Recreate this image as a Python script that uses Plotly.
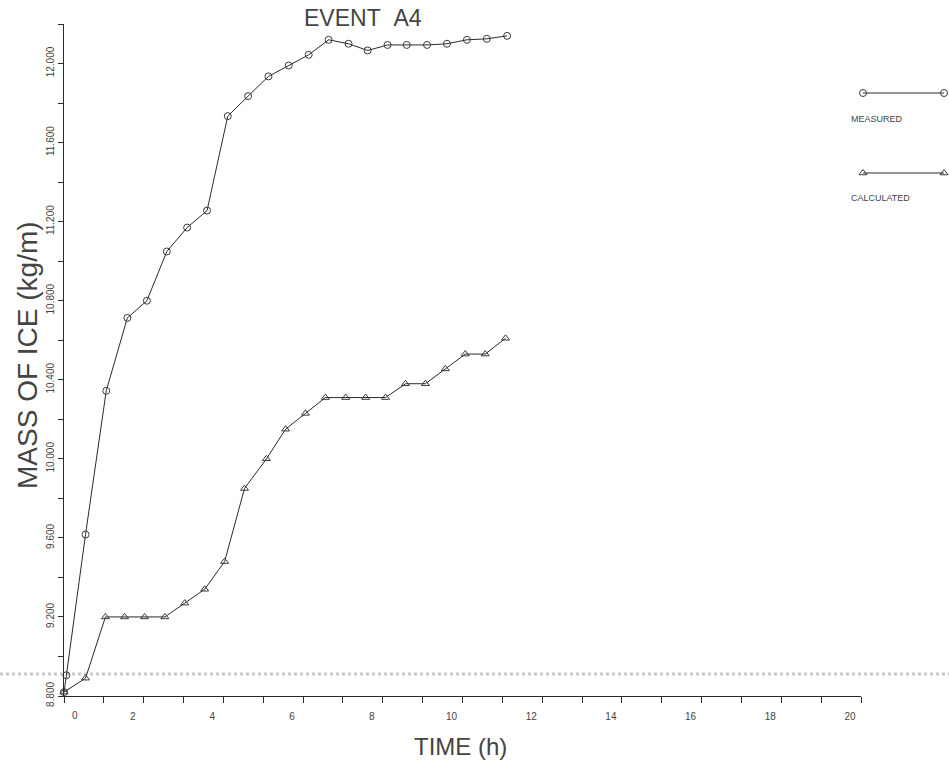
import plotly.graph_objects as go

# ---------------- data ----------------
meas_time = [0.0, 0.06, 0.54, 1.06, 1.59, 2.08, 2.58, 3.09, 3.59, 4.11, 4.62, 5.13,
             5.64, 6.14, 6.64, 7.14, 7.62, 8.12, 8.60, 9.11, 9.61, 10.11, 10.61, 11.12]
meas_mass = [8.82, 8.905, 9.617, 10.344, 10.713, 10.80, 11.049, 11.17, 11.256, 11.734,
             11.835, 11.935, 11.99, 12.044, 12.12, 12.10, 12.066, 12.094, 12.094, 12.094,
             12.10, 12.12, 12.125, 12.14]

calc_time = [0.0, 0.54, 1.04, 1.52, 2.02, 2.53, 3.03, 3.53, 4.03, 4.53, 5.08, 5.56,
             6.06, 6.56, 7.07, 7.57, 8.07, 8.57, 9.07, 9.57, 10.07, 10.57, 11.08]
calc_mass = [8.82, 8.89, 9.20, 9.20, 9.20, 9.20, 9.27, 9.34, 9.48, 9.85, 10.00, 10.15,
             10.23, 10.31, 10.31, 10.31, 10.31, 10.38, 10.38, 10.455, 10.53, 10.53, 10.61]

x_tick_vals = [0, 1, 2, 3, 4, 5, 6, 7, 8, 9, 10, 11, 12, 13, 14, 15, 16, 17, 18, 19, 20]
x_tick_text = ["", "", "2", "", "4", "", "6", "", "8", "", "10", "", "12", "", "14", "",
               "16", "", "18", "", "20"]
y_tick_vals = [8.8, 9.0, 9.2, 9.4, 9.6, 9.8, 10.0, 10.2, 10.4, 10.6, 10.8, 11.0, 11.2,
               11.4, 11.6, 11.8, 12.0, 12.2]
y_tick_text = ["8.800", "", "9.200", "", "9.600", "", "10.000", "", "10.400", "",
               "10.800", "", "11.200", "", "11.600", "", "12.000", ""]

series_names = ["MEASURED", "CALCULATED"]
scan_line_mass = 8.911   # faint grey scanner streak across the page

# ---------------- layout geometry ----------------
W, H = 949, 776
ML, MR, MT, MB = 64, 0, 24, 80
PW, PH = W - ML - MR, H - MT - MB


def fx(px):
    return (px - ML) / PW


def fy(py):
    return (H - MB - py) / PH


INK = "#2a2a2a"
TXT = "#444444"
FONT = "Liberation Sans, Arial, sans-serif"

fig = go.Figure()

fig.add_trace(go.Scatter(
    x=meas_time, y=meas_mass, mode="lines+markers", name=series_names[0],
    line=dict(color=INK, width=1),
    marker=dict(symbol="circle-open", size=7, color="#3a3a3a", line=dict(width=1)),
    cliponaxis=False, showlegend=False))

fig.add_trace(go.Scatter(
    x=calc_time, y=calc_mass, mode="lines+markers", name=series_names[1],
    line=dict(color=INK, width=1),
    marker=dict(symbol="triangle-up-open", size=7, color="#3a3a3a", line=dict(width=1)),
    cliponaxis=False, showlegend=False))

# hand-drawn style legend on an overlay axis
leg_y = [fy(93), fy(173)]
leg_sym = ["circle-open", "triangle-up-open"]
for i in range(2):
    fig.add_trace(go.Scatter(
        x=[0, 1], y=[leg_y[i], leg_y[i]], mode="lines+markers",
        xaxis="x2", yaxis="y2",
        line=dict(color=INK, width=1),
        marker=dict(symbol=leg_sym[i], size=7, color="#3a3a3a", line=dict(width=1)),
        cliponaxis=False, showlegend=False, hoverinfo="skip"))


def ann(text, x, y, size, xref="paper", xanchor="center", **kw):
    d = dict(text=text, x=x, y=y, xref=xref, yref="paper", showarrow=False,
             xanchor=xanchor, yanchor="middle",
             font=dict(family=FONT, size=size, color=TXT))
    d.update(kw)
    return d


annotations = [
    ann("EVENT\u00a0\u00a0A4", fx(363), fy(18), 23),
    ann("MASS OF ICE (kg/m)", fx(27), fy(355), 28, textangle=-90),
    ann("TIME (h)", fx(460), fy(746), 24),
    ann("0", 0, fy(716), 10, xref="x", xshift=11),
    ann(series_names[0], fx(849), fy(119), 9, xanchor="left"),
    ann(series_names[1], fx(849), fy(198), 9, xanchor="left"),
]

fig.update_layout(
    width=W, height=H,
    margin=dict(l=ML, r=MR, t=MT, b=MB, pad=0),
    paper_bgcolor="white", plot_bgcolor="white",
    font=dict(family=FONT, color=TXT),
    xaxis=dict(domain=[0, fx(861)], range=[0, 20], tickmode="array",
               tickvals=x_tick_vals, ticktext=x_tick_text,
               showline=True, linecolor=INK, linewidth=1, mirror=False,
               ticks="outside", ticklen=6, tickcolor=INK, tickwidth=1,
               showgrid=False, zeroline=False,
               tickfont=dict(family=FONT, size=10, color=TXT),
               ticklabelshift=-11, ticklabelstandoff=5),
    yaxis=dict(domain=[0, 1], range=[8.8, 12.2], tickmode="array",
               tickvals=y_tick_vals, ticktext=y_tick_text, tickangle=-90,
               showline=True, linecolor=INK, linewidth=1,
               ticks="outside", ticklen=5, tickcolor=INK, tickwidth=1,
               showgrid=False, zeroline=False,
               tickfont=dict(family=FONT, size=10, color=TXT)),
    xaxis2=dict(domain=[fx(863), fx(944)], range=[0, 1], anchor="y2", visible=False),
    yaxis2=dict(domain=[0, 1], range=[0, 1], anchor="x2", visible=False),
    annotations=annotations,
    shapes=[dict(type="line", xref="paper", yref="y", x0=-ML / PW, x1=1,
                 y0=scan_line_mass, y1=scan_line_mass, layer="below",
                 line=dict(color="#c8c8c8", width=3, dash="dot"))],
)

fig.write_html("out.html",
               config={"displayModeBar": False},
               post_script="document.body.style.margin='0px';"
                           "document.body.style.overflow='hidden';")
